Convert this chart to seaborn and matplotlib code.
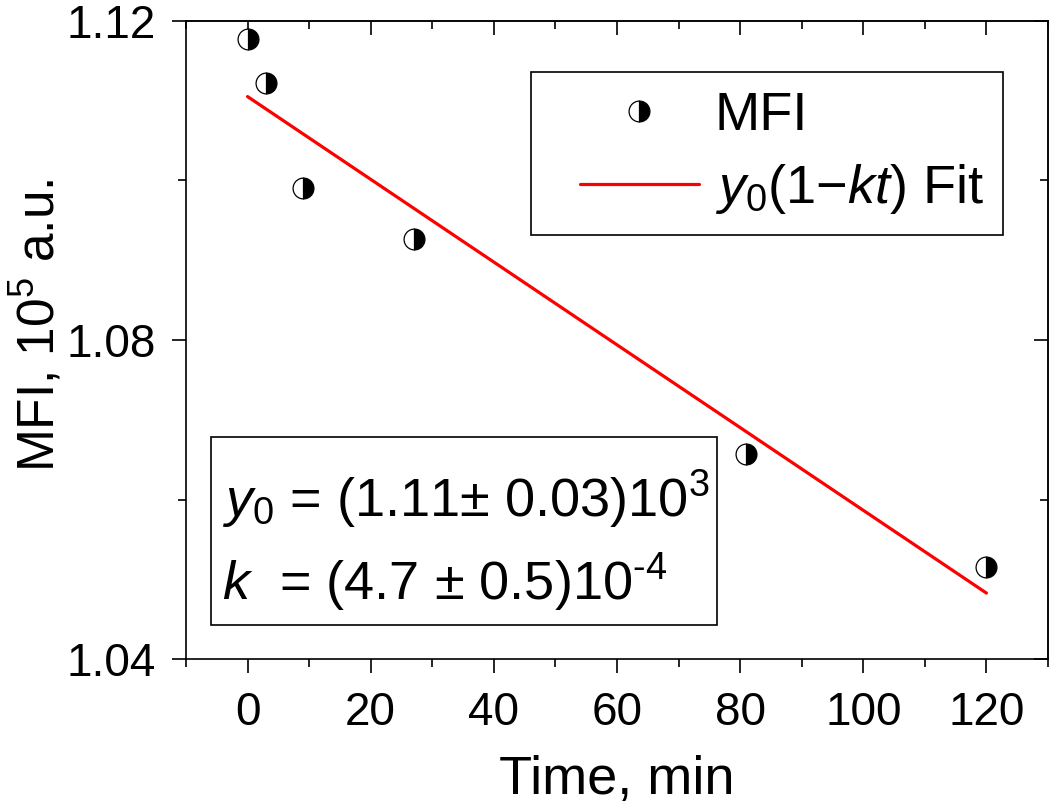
import matplotlib
matplotlib.use("Agg")
import matplotlib.pyplot as plt
from matplotlib.ticker import MultipleLocator
from matplotlib.legend_handler import HandlerLine2D
from matplotlib.patches import Rectangle
import seaborn as sns
import pandas as pd

# ---- data ----
time_min = [0, 3, 9, 27, 81, 120]
mfi = [1.1177, 1.1122, 1.0991, 1.0927, 1.0657, 1.0516]
fit_time = [0, 120]
fit_mfi = [1.1105, 1.0483]
x_ticks = [0, 20, 40, 60, 80, 100, 120]
y_ticks = [1.04, 1.08, 1.12]
y_tick_labels = ["1.04", "1.08", "1.12"]
fit_lines = [r"$y_0$ = (1.11$\pm$ 0.03)10$^3$",
             r"$k$  = (4.7 $\pm$ 0.5)10$^{\text{-}4}$"]

sns.set_style("ticks")
plt.rcParams["font.family"] = ["Liberation Sans", "DejaVu Sans"]
plt.rcParams["mathtext.fontset"] = "custom"
plt.rcParams["mathtext.rm"] = "Liberation Sans"
plt.rcParams["mathtext.it"] = "Liberation Sans:italic"
plt.rcParams["mathtext.bf"] = "Liberation Sans:bold"
plt.rcParams["text.color"] = "black"
plt.rcParams["axes.labelcolor"] = "black"
plt.rcParams["xtick.color"] = "black"
plt.rcParams["ytick.color"] = "black"

fig = plt.figure(figsize=(10.5, 8.07), dpi=100)
ax = fig.add_axes([0.1771, 0.1830, 0.8210, 0.7913])

df = pd.DataFrame({"t": time_min, "mfi": mfi})
fit_df = pd.DataFrame({"t": fit_time, "mfi": fit_mfi})

sns.lineplot(data=fit_df, x="t", y="mfi", ax=ax, color="red", linewidth=2.3,
             label=r"$y_0$(1$-$$kt$) Fit", estimator=None, errorbar=None, sort=False)
sns.lineplot(data=df, x="t", y="mfi", ax=ax, color="black", linestyle="",
             marker="o", markersize=15, fillstyle="right",
             markerfacecolor="black", markerfacecoloralt="white",
             markeredgecolor="black", markeredgewidth=0.9,
             label="MFI", estimator=None, errorbar=None, sort=False)

ax.set_xlim(-10, 130)
ax.set_ylim(1.04, 1.12)
ax.set_xticks(x_ticks)
ax.xaxis.set_minor_locator(MultipleLocator(10))
ax.set_yticks(y_ticks)
ax.set_yticklabels(y_tick_labels)
ax.yaxis.set_minor_locator(MultipleLocator(0.02))

for s in ax.spines.values():
    s.set_visible(True)
    s.set_linewidth(1.2)
    s.set_color("black")

ax.tick_params(axis="both", which="major", labelsize=33, width=1.2, length=10,
               color="black", labelcolor="black", direction="out")
ax.tick_params(axis="both", which="minor", width=1.2, length=5.5, direction="out")
ax.tick_params(axis="x", which="both", top=False, pad=13)
ax.tick_params(axis="y", which="both", right=False, pad=12)

# inward ticks on the top and right edges
secx = ax.secondary_xaxis("top")
secx.set_xticks(x_ticks)
secx.xaxis.set_minor_locator(MultipleLocator(10))
secx.tick_params(which="major", direction="in", length=10, width=1.2, labeltop=False)
secx.tick_params(which="minor", direction="in", length=5.5, width=1.2)
secx.spines["top"].set_linewidth(1.2)
secy = ax.secondary_yaxis("right")
secy.set_yticks(y_ticks)
secy.yaxis.set_minor_locator(MultipleLocator(0.02))
secy.tick_params(which="major", direction="in", length=10, width=1.2, labelright=False)
secy.tick_params(which="minor", direction="in", length=5.5, width=1.2)
secy.spines["right"].set_linewidth(1.2)

ax.set_xlabel("Time, min", fontsize=39, labelpad=14)
ax.set_ylabel(r"MFI, 10$^5$ a.u.", fontsize=37)
ax.yaxis.set_label_coords(-0.140, 0.5235)

handles, labels = ax.get_legend_handles_labels()
i_mfi = labels.index("MFI")
order = [i_mfi, 1 - i_mfi]
hmap = {h: HandlerLine2D(xpad=0.55) for h in handles}
leg = ax.legend([handles[i] for i in order], [labels[i] for i in order],
                loc="upper right", bbox_to_anchor=(0.948, 0.92),
                fontsize=39, frameon=True, fancybox=False, framealpha=1,
                edgecolor="black", handlelength=2.75, handletextpad=0.3,
                borderpad=0.35, labelspacing=0.4, borderaxespad=0,
                handler_map=hmap)
leg.get_frame().set_linewidth(1.2)

# parameter box
ax.add_patch(Rectangle((0.029, 0.0537), 0.587, 0.2944, transform=ax.transAxes,
                       facecolor="white", edgecolor="black", linewidth=1.2, zorder=4))
ax.text(0.0418, 0.2228, fit_lines[0], transform=ax.transAxes, fontsize=39,
        ha="left", va="baseline", zorder=5)
ax.text(0.0418, 0.0929, fit_lines[1], transform=ax.transAxes, fontsize=39,
        ha="left", va="baseline", zorder=5)

fig.savefig("out.png", dpi=100)
